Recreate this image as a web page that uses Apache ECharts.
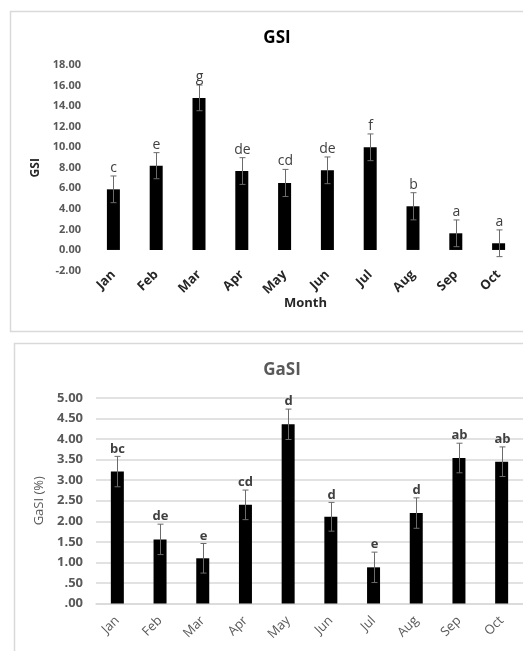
<!DOCTYPE html>
<html>
<head>
<meta charset="utf-8">
<script src="https://cdn.jsdelivr.net/npm/echarts@6/dist/echarts.min.js"></script>
<style>
html,body{margin:0;padding:0;background:#fff;}
#c{width:523px;height:651px;}
</style>
</head>
<body>
<div id="c"></div>
<script>
const months = ['Jan','Feb','Mar','Apr','May','Jun','Jul','Aug','Sep','Oct'];
const gsiMean = [5.90, 8.20, 14.80, 7.68, 6.52, 7.75, 9.99, 4.25, 1.62, 0.65];
const gsiErr = [1.30, 1.27, 1.25, 1.30, 1.32, 1.30, 1.30, 1.32, 1.30, 1.30];
const gsiLetters = ['c','e','g','de','cd','de','f','b','a','a'];
const gsiTicks = ['-2.00','0.00','2.00','4.00','6.00','8.00','10.00','12.00','14.00','16.00','18.00'];
const gasiMean = [3.21, 1.56, 1.10, 2.40, 4.36, 2.11, 0.88, 2.20, 3.54, 3.45];
const gasiErr = [0.37, 0.37, 0.36, 0.36, 0.37, 0.35, 0.37, 0.37, 0.36, 0.36];
const gasiLetters = ['bc','de','e','cd','d','d','e','d','ab','ab'];
const gasiTicks = ['.00','.50','1.00','1.50','2.00','2.50','3.00','3.50','4.00','4.50','5.00'];

const FONT = "'Open Sans', 'Liberation Sans', sans-serif";

function errRender(letters, letterFont, letterColor) {
  return function (params, api) {
    const i = api.value(0);
    const m = api.value(1), e = api.value(2);
    const top = api.coord([i, m + e]);
    const bot = api.coord([i, m - e]);
    const x = Math.round(top[0]) + 0.5;
    const cw = 3;
    const st = { stroke: '#6b6b6b', lineWidth: 1 };
    return {
      type: 'group',
      children: [
        { type: 'line', shape: { x1: x, y1: top[1], x2: x, y2: bot[1] }, style: st },
        { type: 'line', shape: { x1: x - cw, y1: top[1], x2: x + cw, y2: top[1] }, style: st },
        { type: 'line', shape: { x1: x - cw, y1: bot[1], x2: x + cw, y2: bot[1] }, style: st },
        { type: 'text', x: x, y: top[1] - 1,
          style: { text: letters[i], align: 'center', verticalAlign: 'bottom',
                   font: letterFont, fill: letterColor } }
      ]
    };
  };
}

const chart = echarts.init(document.getElementById('c'), null, { renderer: 'canvas' });
chart.setOption({
  animation: false,
  backgroundColor: '#fff',
  graphic: [
    { type: 'rect', shape: { x: 10.5, y: 11.5, width: 530, height: 320 },
      style: { fill: 'none', stroke: '#d9d9d9', lineWidth: 1.5 }, z: -10 },
    { type: 'rect', shape: { x: 14.5, y: 343.5, width: 530, height: 330 },
      style: { fill: 'none', stroke: '#d9d9d9', lineWidth: 1.5 }, z: -10 },
    { type: 'text', left: 284, top: 297,
      style: { text: 'Month', font: 'bold 13px ' + FONT, fill: '#262626' } }
  ],
  title: [
    { text: 'GSI', left: 272, top: 25, textAlign: 'center',
      textStyle: { fontFamily: FONT, fontSize: 17, fontWeight: 'bold', color: '#000' } },
    { text: 'GaSI', left: 277, top: 357, textAlign: 'center',
      textStyle: { fontFamily: FONT, fontSize: 17, fontWeight: 'bold', color: '#595959' } }
  ],
  grid: [
    { left: 92, right: 3, top: 65, height: 205.5 },
    { left: 96, right: 0, top: 398, height: 205.5 }
  ],
  xAxis: [
    { type: 'category', gridIndex: 0, data: months,
      axisLine: { show: false, onZero: false }, axisTick: { show: false },
      axisLabel: { rotate: 45, margin: 2, interval: 0,
        fontFamily: FONT, fontSize: 13, fontWeight: 'bold', color: '#262626' } },
    { type: 'category', gridIndex: 1, data: months,
      axisLine: { show: true, lineStyle: { color: '#d9d9d9', width: 1.5 } }, axisTick: { show: false },
      axisLabel: { rotate: 45, margin: 15, interval: 0,
        fontFamily: FONT, fontSize: 13, fontWeight: 'normal', color: '#595959' } }
  ],
  yAxis: [
    { type: 'value', gridIndex: 0, min: -2, max: 18, interval: 2,
      name: 'GSI', nameLocation: 'middle', nameGap: 50,
      nameTextStyle: { fontFamily: FONT, fontSize: 12, fontWeight: 'bold', color: '#262626' },
      axisLine: { show: false }, axisTick: { show: false }, splitLine: { show: false },
      axisLabel: { margin: 11, fontFamily: FONT, fontSize: 11, fontWeight: 'bold', color: '#595959',
        formatter: function (v) { return gsiTicks[Math.round((v + 2) / 2)]; } } },
    { type: 'value', gridIndex: 1, min: 0, max: 5, interval: 0.5,
      name: 'GaSI (%)', nameLocation: 'middle', nameGap: 46,
      nameTextStyle: { fontFamily: FONT, fontSize: 13, color: '#595959' },
      axisLine: { show: false }, axisTick: { show: false },
      splitLine: { show: true, lineStyle: { color: '#d9d9d9', width: 1.5 } },
      axisLabel: { margin: 13, fontFamily: FONT, fontSize: 13, fontWeight: 'bold', color: '#595959',
        formatter: function (v) { return gasiTicks[Math.round(v / 0.5)]; } } }
  ],
  series: [
    { type: 'bar', xAxisIndex: 0, yAxisIndex: 0, data: gsiMean, barWidth: 13,
      itemStyle: { color: '#000' } },
    { type: 'custom', xAxisIndex: 0, yAxisIndex: 0, z: 5,
      data: months.map((m, i) => [i, gsiMean[i], gsiErr[i]]),
      renderItem: errRender(gsiLetters, '14px ' + FONT, '#404040') },
    { type: 'bar', xAxisIndex: 1, yAxisIndex: 1, data: gasiMean, barWidth: 13,
      itemStyle: { color: '#000' } },
    { type: 'custom', xAxisIndex: 1, yAxisIndex: 1, z: 5,
      data: months.map((m, i) => [i, gasiMean[i], gasiErr[i]]),
      renderItem: errRender(gasiLetters, 'bold 13px ' + FONT, '#404040') }
  ]
});
</script>
</body>
</html>
